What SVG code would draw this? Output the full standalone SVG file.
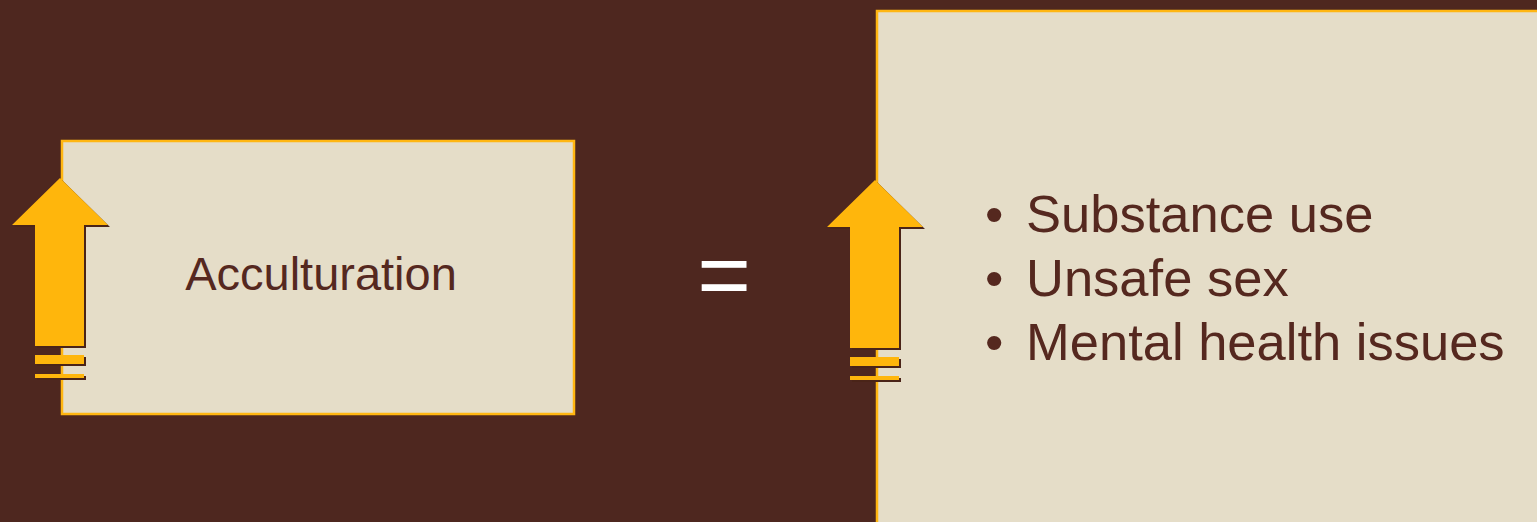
<svg xmlns="http://www.w3.org/2000/svg" width="1537" height="522" viewBox="0 0 1537 522">
<style>
.box{fill:#E5DDC8;stroke:#FFB612;stroke-width:2.5}
.arr{fill:#FFB60C}
.sh{fill:#4A2418}
.txt{font-family:"Liberation Sans",Arial,sans-serif;fill:#55281F}
</style>
<defs>
<g id="arrow">
<path d="M0,0 L48,47 L24,47 L24,168 L-25,168 L-25,47 L-48,47 Z"/>
<rect x="-25" y="177" width="49" height="9"/>
<rect x="-25" y="196" width="49" height="4"/>
</g>
</defs>
<rect width="1537" height="522" fill="#4E271F"/>
<g id="left-box">
<rect class="box" x="62" y="141" width="512" height="273"/>
<text class="txt" x="321" y="290" font-size="47" text-anchor="middle">Acculturation</text>
</g>
<g id="right-box">
<rect class="box" x="877" y="11" width="700" height="600"/>
<text class="txt" font-size="52.5">
<tspan x="985" y="232">•</tspan><tspan x="1026" y="232">Substance use</tspan>
<tspan x="985" y="296">•</tspan><tspan x="1026" y="296">Unsafe sex</tspan>
<tspan x="985" y="360">•</tspan><tspan x="1026" y="360">Mental health issues</tspan>
</text>
</g>
<g id="left-arrow">
<use href="#arrow" class="sh" transform="translate(62,180)"/>
<use href="#arrow" class="arr" transform="translate(60,178)"/>
</g>
<g id="right-arrow">
<use href="#arrow" class="sh" transform="translate(877,182)"/>
<use href="#arrow" class="arr" transform="translate(875,180)"/>
</g>
<g id="equals">
<text x="724" y="307" font-size="92" text-anchor="middle" font-family="Liberation Sans, Arial, sans-serif" fill="#FFFFFF">=</text>
</g>
</svg>
